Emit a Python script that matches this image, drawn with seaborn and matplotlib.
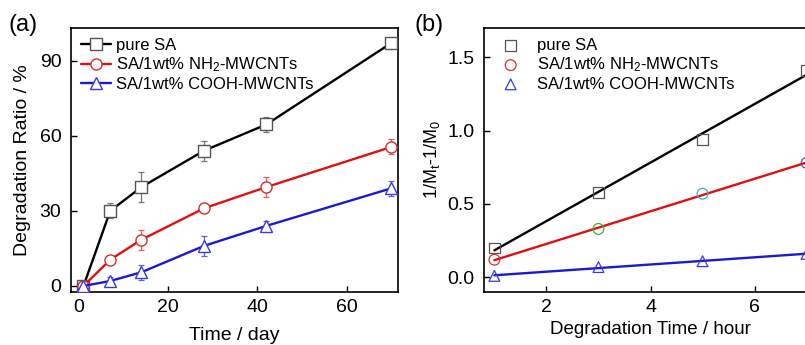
import matplotlib
matplotlib.use("Agg")
import matplotlib.pyplot as plt
import numpy as np
import pandas as pd
import seaborn as sns

# -------------data-------------
days = [1, 7, 14, 28, 42, 70]
pure_sa = [0, 30, 39.5, 54, 64.5, 97]
pure_sa_err = [1, 3, 6, 4, 3, 2]
nh2 = [0, 10.5, 18.5, 31, 39.5, 55.5]
nh2_err = [1, 1.5, 4, 1.5, 4, 3]
cooh = [0, 2, 5.5, 16, 24, 39]
cooh_err = [1, 1.5, 3, 4, 2, 3]

hours = [1, 3, 5, 7]
pure_sa_k = [0.20, 0.58, 0.94, 1.41]
nh2_k = [0.12, 0.33, 0.57, 0.78]
cooh_k = [0.01, 0.07, 0.11, 0.16]

labels = ["pure SA", "SA/1wt% NH$_2$-MWCNTs", "SA/1wt% COOH-MWCNTs"]
line_colors = ["black", "#e01010", "#1a1ad0"]
mark_colors = ["#555555", "#d03030", "#3a3ae0"]
err_colors = ["#777777", "#e06060", "#6060e0"]
markers = ["s", "o", "^"]
# circles in (b) were drawn with a different edge colour at each point
circle_colors_b = ["#d03030", "#40b040", "#40b0c0", "#5050e0"]

# -------------style-------------
sns.set_style("ticks")
plt.rcParams["font.family"] = ["Liberation Sans", "DejaVu Sans"]
plt.rcParams["mathtext.fontset"] = "custom"
plt.rcParams["mathtext.rm"] = "Liberation Sans"
plt.rcParams["mathtext.it"] = "Liberation Sans"
plt.rcParams["axes.linewidth"] = 1.2
plt.rcParams["axes.edgecolor"] = "black"
plt.rcParams["axes.labelcolor"] = "black"
plt.rcParams["text.color"] = "black"
plt.rcParams["xtick.color"] = "black"
plt.rcParams["ytick.color"] = "black"
plt.rcParams["xtick.direction"] = "in"
plt.rcParams["ytick.direction"] = "in"

fig = plt.figure(figsize=(8.05, 3.45), dpi=100)
ax1 = fig.add_axes([71 / 805, 53 / 345, 327 / 805, 264 / 345])
ax2 = fig.add_axes([484 / 805, 53 / 345, 333 / 805, 264 / 345])

# -------------panel (a)-------------
series_a = [(pure_sa, pure_sa_err), (nh2, nh2_err), (cooh, cooh_err)]
for i, (vals, errs) in enumerate(series_a):
    df = pd.DataFrame({"day": days, "ratio": vals})
    ax1.errorbar(days, vals, yerr=errs, fmt="none", ecolor=err_colors[i],
                 elinewidth=0.9, capsize=2.5, capthick=0.9, zorder=2)
    sns.lineplot(data=df, x="day", y="ratio", ax=ax1, color=line_colors[i],
                 linewidth=1.7, marker=markers[i], markersize=8,
                 markerfacecolor="white", markeredgecolor=mark_colors[i],
                 markeredgewidth=1.0, label=labels[i], zorder=3)

ax1.set(xlim=(-1.8, 71.5), ylim=(-2.4, 103))
ax1.set_xticks([0, 20, 40, 60])
ax1.set_yticks([0, 30, 60, 90])
ax1.tick_params(labelsize=14, length=4, width=1.0, pad=5)
ax1.tick_params(axis="y", pad=7)
ax1.set_xlabel("Time / day", fontsize=14, labelpad=8)
ax1.set_ylabel("Degradation Ratio / %", fontsize=14, labelpad=6)
ax1.legend(loc="upper left", frameon=False, fontsize=12, handlelength=1.8,
           handletextpad=0.3, labelspacing=0.15, borderaxespad=0.2,
           bbox_to_anchor=(0.0, 1.0))
fig.text(8 / 805, 1 - 25 / 345, "(a)", fontsize=17, va="center")

# -------------panel (b)-------------
series_b = [pure_sa_k, nh2_k, cooh_k]
for i, vals in enumerate(series_b):
    df = pd.DataFrame({"hour": hours, "k": vals})
    sns.regplot(data=df, x="hour", y="k", ax=ax2, ci=None, scatter=False,
                color=line_colors[i], line_kws={"linewidth": 1.7, "zorder": 2})
    edge = circle_colors_b if markers[i] == "o" else mark_colors[i]
    ax2.scatter(hours, vals, marker=markers[i], s=60, facecolors="none",
                edgecolors=edge, linewidths=0.9, zorder=3)
    ax2.scatter([], [], marker=markers[i], s=60, facecolors="none",
                edgecolors=mark_colors[i], linewidths=0.9, label=labels[i])

ax2.set(xlim=(0.8, 7.2), ylim=(-0.1, 1.7))
ax2.set_xticks([2, 4, 6])
ax2.set_yticks([0.0, 0.5, 1.0, 1.5])
ax2.tick_params(labelsize=14, length=4, width=1.0, pad=5)
ax2.tick_params(axis="y", pad=7)
ax2.set_xlabel("Degradation Time / hour", fontsize=13.5, labelpad=4)
ax2.set_ylabel("1/M$_t$-1/M$_0$", fontsize=13, labelpad=4)
ax2.legend(loc="upper left", frameon=False, fontsize=12, handletextpad=0.6,
           labelspacing=0.15, borderaxespad=0.2, markerscale=1.0)
fig.text(414 / 805, 1 - 25 / 345, "(b)", fontsize=17, va="center")

fig.savefig("out.png", dpi=100)
